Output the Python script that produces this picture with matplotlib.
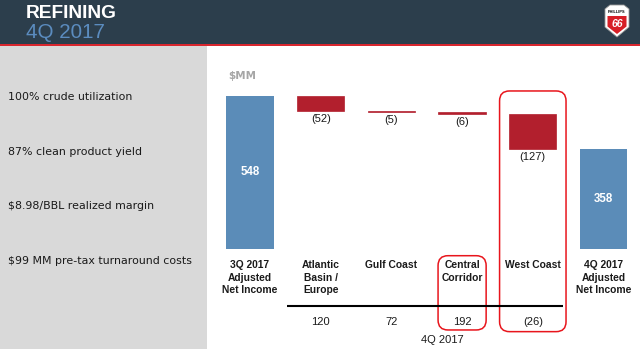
import numpy as np
import matplotlib
matplotlib.use("Agg")
from matplotlib import pyplot as plt
from matplotlib.patches import Rectangle, FancyBboxPatch, Polygon

# ---- data ----
categories = ["3Q 2017\nAdjusted\nNet Income", "Atlantic\nBasin /\nEurope", "Gulf Coast",
              "Central\nCorridor", "West Coast", "4Q 2017\nAdjusted\nNet Income"]
start_value = 548
deltas = [-52, -5, -6, -127]
end_value = 358
delta_labels = ["(52)", "(5)", "(6)", "(127)"]
q4_by_region = ["120", "72", "192", "(26)"]
highlights = ["100% crude utilization", "87% clean product yield",
              "$8.98/BBL realized margin", "$99 MM pre-tax turnaround costs"]
boxed = [3, 4]  # Central Corridor, West Coast

BLUE = "#5b8cb8"
RED = "#b21f2d"
BOX_RED = "#e8151c"
TXT = "#1a1a1a"
FONT = "Liberation Sans"
WIDE = "DejaVu Sans"

W, H = 640, 349
fig = plt.figure(figsize=(W / 100, H / 100), dpi=100)
fig.patch.set_facecolor("white")

# background / decoration layer in pixel coords
bg = fig.add_axes([0, 0, 1, 1])
bg.set_xlim(0, W)
bg.set_ylim(H, 0)
bg.axis("off")
bg.add_patch(Rectangle((0, 0), W, 44, color="#2c3e4c", lw=0))
bg.add_patch(Rectangle((0, 44), W, 2, color="#d9262e", lw=0))
bg.add_patch(Rectangle((0, 46), 207, H - 46, color="#d9d9d9", lw=0))
bg.text(26, 18.5, "REFINING", color="white", fontsize=13.8, fontweight="bold",
        family=FONT, va="baseline")
bg.text(26, 38.5, "4Q 2017", color="#5b8cbf", fontsize=14.8, family=FONT, va="baseline")

# logo shield
shield = Polygon([(605, 9), (610, 5), (624, 5), (629, 9), (629, 27), (617, 37), (605, 27)],
                 closed=True, fc="white", ec="#9a9a9a", lw=0.6)
bg.add_patch(shield)
inner = Polygon([(607.5, 16), (626.5, 16), (626.5, 26.5), (617, 34), (607.5, 26.5)],
                closed=True, fc="#d71f26", lw=0)
bg.add_patch(inner)
bg.text(617, 12, "PHILLIPS", fontsize=2.8, fontweight="bold", ha="center", va="center",
        color="black", family=FONT)
bg.text(617, 24, "66", fontsize=7.5, fontweight="bold", style="italic", ha="center",
        va="center", color="white", family=FONT)

for i, t in enumerate(highlights):
    bg.text(8, 97 + 54.7 * i, t, fontsize=7.9, color=TXT, family=WIDE, va="center")

# ---- chart axes ----
px_per_mm = 0.2792
x0_px, step_px = 250, 70.7
zero_px = 249
ax = fig.add_axes([207 / W, 0, (W - 207) / W, (H - 46) / H])
ax.set_xlim((207 - x0_px) / step_px, (W - x0_px) / step_px)
ax.set_ylim(-(H - zero_px) / px_per_mm, (zero_px - 46) / px_per_mm)
ax.axis("off")

x = np.arange(len(categories))
running = np.concatenate([[start_value], start_value + np.cumsum(deltas)])
bw = 0.67

ax.bar(x[0], start_value, width=bw, color=BLUE)
ax.bar(x[-1], end_value, width=bw, color=BLUE)
ax.bar(x[1:-1], deltas, bottom=running[:-1], width=bw, color=RED, ec=RED, lw=0.5)

ax.text(x[0], start_value / 2, str(start_value), color="white", fontsize=8.3,
        fontweight="bold", ha="center", va="center", family=FONT)
ax.text(x[-1], end_value / 2, str(end_value), color="white", fontsize=8.3,
        fontweight="bold", ha="center", va="center", family=FONT)
for i, lab in enumerate(delta_labels):
    ax.text(x[i + 1], running[i + 1] - 30, lab, fontsize=8, ha="center", va="center",
            color=TXT, family=FONT)

ax.text(-0.31, 620, "$MM", fontsize=7.5, fontweight="bold", color="#a6a6a6",
        va="center", family=WIDE)

for i, c in enumerate(categories):
    ax.text(x[i], -41, c, fontsize=7.4, fontweight="bold", ha="center", va="top",
            linespacing=1.3, color=TXT, family=FONT)

ax.plot([0.52, 4.43], [-203, -203], color="black", lw=1.5, solid_capstyle="butt")
for i, v in enumerate(q4_by_region):
    ax.text(x[i + 1], -260, v, fontsize=8, ha="center", va="center", color=TXT, family=FONT)
ax.text(2.72, -327, "4Q 2017", fontsize=8, ha="center", va="center", color=TXT, family=FONT)

# highlight boxes (rounded), y extents in MM
mm_per_cat = step_px / px_per_mm
box_spans = {3: (0.34, -290, -24), 4: (0.47, -296, 566)}
for k in boxed:
    hw, y_lo, y_hi = box_spans[k]
    ax.add_patch(FancyBboxPatch((x[k] - hw, y_lo), 2 * hw, y_hi - y_lo,
                                boxstyle="round,pad=0,rounding_size=0.14",
                                mutation_aspect=mm_per_cat, fc="none", ec=BOX_RED,
                                lw=1.1, clip_on=False))

fig.savefig("out.png", dpi=100)
